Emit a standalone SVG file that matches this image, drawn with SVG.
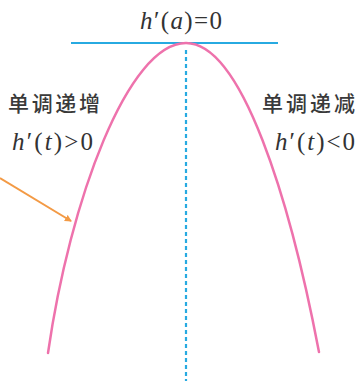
<svg xmlns="http://www.w3.org/2000/svg" width="357" height="381" viewBox="0 0 357 381">
<style>
.cn{font-family:"Noto Sans CJK SC","Noto Sans",sans-serif;font-size:21px;fill:#3a3a3a;font-weight:500}
.m{font-family:"Liberation Serif","Times New Roman",serif;font-size:25px;fill:#333}
.i{font-style:italic}
.curve{fill:none;stroke:#ee72ac;stroke-width:2.5;stroke-linecap:round}
.blue{stroke:#27aae1;stroke-width:2.2;fill:none}
</style>
<defs>
<marker id="ah" markerWidth="8" markerHeight="8" refX="6" refY="4" orient="auto" markerUnits="userSpaceOnUse">
<path d="M0,0.5 L7,4 L0,7.5 Z" fill="#f39a45"/>
</marker>
</defs>
<rect width="357" height="381" fill="#fff"/>
<g id="connectors">
<line class="blue" x1="71" y1="43" x2="278" y2="43"/>
<line class="blue" x1="186" y1="50" x2="186" y2="381" stroke-dasharray="4,3"/>
<line x1="0" y1="178" x2="71" y2="221" stroke="#f39a45" stroke-width="2" marker-end="url(#ah)"/>
</g>
<g id="curve">
<path class="curve" d="M48,353 C70,200 128,43 186,43 C242,43 290,200 319,352"/>
</g>
<g id="label-top">
<text class="m" x="140" y="29" textLength="82"><tspan class="i">h</tspan>′(<tspan class="i">a</tspan>)=0</text>
</g>
<g id="label-left">
<text class="cn" x="8" y="111" textLength="92">单调递增</text>
<text class="m" x="12" y="150" textLength="81"><tspan class="i">h</tspan>′(<tspan class="i">t</tspan>)&gt;0</text>
</g>
<g id="label-right">
<text class="cn" x="262" y="111" textLength="93">单调递减</text>
<text class="m" x="275" y="150" textLength="80"><tspan class="i">h</tspan>′(<tspan class="i">t</tspan>)&lt;0</text>
</g>
</svg>
